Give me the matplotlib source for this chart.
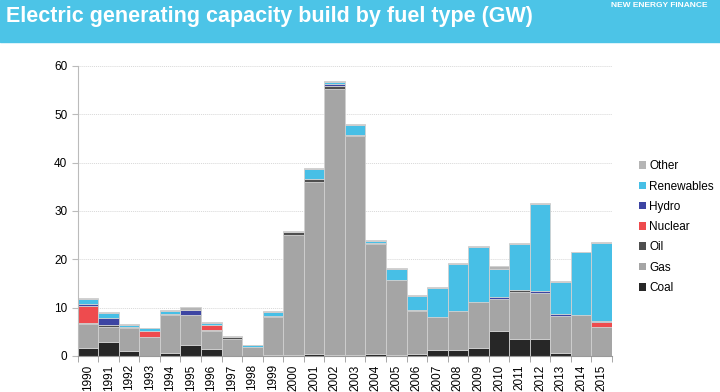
import numpy as np
import matplotlib
matplotlib.use("Agg")
import matplotlib.pyplot as plt
from matplotlib.patches import Rectangle

years = list(range(1990, 2016))
coal = [1.7, 2.9, 1.1, 0.0, 0.7, 2.3, 1.4, 0.0, 0.0, 0.1, 0.1, 0.3, 0.1, 0.1, 0.4,
        0.2, 0.3, 1.2, 1.25, 1.6, 5.1, 3.5, 3.5, 0.7, 0.0, 0.0]
gas = [5.0, 3.0, 4.7, 4.0, 7.8, 6.2, 3.8, 3.5, 1.8, 8.0, 25.0, 35.7, 55.2, 45.4, 22.7,
       15.5, 9.0, 6.85, 7.95, 9.6, 6.75, 9.8, 9.5, 7.55, 8.45, 5.9]
oil = [0.2, 0.5, 0.2, 0.0, 0.2, 0.0, 0.2, 0.5, 0.0, 0.2, 0.5, 0.6, 0.5, 0.3, 0.3,
       0.0, 0.2, 0.0, 0.0, 0.0, 0.0, 0.4, 0.0, 0.0, 0.0, 0.0]
nuclear = [3.5, 0.0, 0.0, 1.2, 0.0, 0.0, 1.1, 0.0, 0.0, 0.0, 0.0, 0.0, 0.0, 0.0, 0.0,
           0.0, 0.0, 0.0, 0.0, 0.0, 0.0, 0.0, 0.0, 0.0, 0.0, 1.1]
hydro = [0.3, 1.5, 0.0, 0.0, 0.0, 1.1, 0.0, 0.0, 0.0, 0.0, 0.0, 0.0, 0.4, 0.0, 0.0,
         0.0, 0.0, 0.0, 0.0, 0.0, 0.25, 0.0, 0.4, 0.4, 0.0, 0.25]
renewables = [1.0, 1.0, 0.5, 0.5, 0.6, 0.0, 0.4, 0.0, 0.4, 0.85, 0.0, 2.0, 0.5, 1.9, 0.4,
              2.3, 2.9, 5.95, 9.9, 11.3, 5.9, 9.5, 18.0, 6.7, 12.95, 16.15]
other = [0.3, 0.2, 0.2, 0.1, 0.1, 0.5, 0.2, 0.2, 0.1, 0.15, 0.2, 0.2, 0.2, 0.2, 0.2,
         0.2, 0.2, 0.2, 0.2, 0.2, 0.5, 0.2, 0.2, 0.15, 0.1, 0.2]

series = [("Coal", coal, "#272727"),
          ("Gas", gas, "#a5a5a5"),
          ("Oil", oil, "#4f4f4f"),
          ("Nuclear", nuclear, "#ee4b4e"),
          ("Hydro", hydro, "#3d45a3"),
          ("Renewables", renewables, "#47bfe6"),
          ("Other", other, "#b5b5b5")]

plt.rcParams['font.family'] = ['Liberation Sans', 'DejaVu Sans']

fig = plt.figure(figsize=(7.2, 3.92), dpi=100)
fig.patches.append(Rectangle((0, 1 - 42 / 392), 1, 42 / 392, transform=fig.transFigure,
                             color="#4cc4e7", zorder=0))
fig.text(0.008, 0.958, "Electric generating capacity build by fuel type (GW)",
         color="white", fontsize=15.5, fontweight="bold", va="center", ha="left")
fig.text(0.982, 0.987, "NEW ENERGY FINANCE", color="white", fontsize=6,
         fontweight="bold", va="center", ha="right")

ax = fig.add_axes([0.108, 0.092, 0.742, 0.74])
x = np.arange(len(years))
bottom = np.zeros(len(years))
for name, vals, col in series:
    ax.bar(x, vals, bottom=bottom, width=1.0, color=col, edgecolor="#d0d0d0",
           linewidth=0.6, label=name, zorder=2)
    bottom += np.array(vals)

ax.set_xlim(-0.5, len(years) - 0.5)
ax.set_ylim(0, 60)
ax.set_yticks(range(0, 61, 10))
ax.yaxis.grid(True, color="#d8d8d8", linestyle=(0, (1, 1)), linewidth=0.7, zorder=0)
ax.set_xticks(x)
ax.set_xticklabels([str(y) for y in years], rotation=90, fontsize=8.5)
ax.tick_params(axis="x", length=0, pad=6)
ax.set_xticks(np.arange(-0.5, len(years), 1), minor=True)
ax.tick_params(axis="x", which="minor", length=4, color="#999999")
ax.tick_params(axis="y", labelsize=8.5, length=4, color="#bbbbbb")
for s in ["top", "right"]:
    ax.spines[s].set_visible(False)
ax.spines["left"].set_color("#bbbbbb")
ax.spines["bottom"].set_color("#999999")

handles, labels = ax.get_legend_handles_labels()
leg = ax.legend(handles[::-1], labels[::-1], loc="center left",
                bbox_to_anchor=(1.03, 0.444), frameon=False, fontsize=8.5,
                handlelength=0.6, handleheight=0.6, handletextpad=0.3,
                labelspacing=0.7)
for h in leg.legend_handles:
    h.set_edgecolor("none")

fig.savefig("out.png", dpi=100)
